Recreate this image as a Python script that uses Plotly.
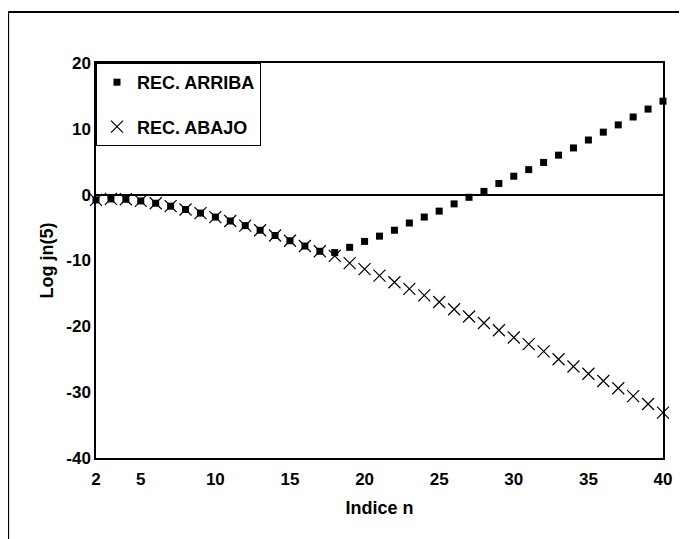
import plotly.graph_objects as go

n_values = list(range(2, 41))

rec_arriba = [-0.8, -0.65, -0.7, -0.95, -1.3, -1.75, -2.25, -2.8, -3.4, -4.0,
              -4.7, -5.4, -6.2, -7.0, -7.8, -8.6, -8.8, -8.0, -7.1, -6.3,
              -5.4, -4.3, -3.4, -2.5, -1.4, -0.4, 0.5, 1.7, 2.8, 3.8,
              4.9, 6.0, 7.1, 8.3, 9.5, 10.6, 11.8, 13.0, 14.2]

rec_abajo = [-0.8, -0.65, -0.7, -0.95, -1.3, -1.75, -2.25, -2.8, -3.4, -4.0,
             -4.7, -5.4, -6.2, -7.0, -7.8, -8.6, -9.3, -10.4, -11.3, -12.3,
             -13.3, -14.3, -15.3, -16.3, -17.4, -18.5, -19.5, -20.6, -21.7, -22.7,
             -23.8, -25.0, -26.1, -27.2, -28.3, -29.4, -30.6, -31.8, -33.1]

x_ticks = [2, 5, 10, 15, 20, 25, 30, 35, 40]
y_ticks = [-40, -30, -20, -10, 0, 10, 20]

FONT = "Arial, 'Liberation Sans', sans-serif"

fig = go.Figure()
fig.add_trace(go.Scatter(
    x=n_values, y=rec_arriba, mode="markers", name="REC. ARRIBA",
    legendgroup="a",
    marker=dict(symbol="square", size=7, color="black"),
    cliponaxis=False,
))
fig.add_trace(go.Scatter(
    x=n_values, y=rec_abajo, mode="markers", name="REC. ABAJO",
    legendgroup="b",
    marker=dict(symbol="x-thin", size=12, color="black",
                line=dict(color="black", width=1.2)),
    cliponaxis=False,
))

fig.update_layout(
    width=687, height=539,
    margin=dict(l=88, r=32, t=55, b=89),
    paper_bgcolor="white", plot_bgcolor="white",
    font=dict(family=FONT, size=17, color="black", weight="bold"),
    showlegend=True,
    legend=dict(x=0, y=1, xanchor="left", yanchor="top",
                bgcolor="white", bordercolor="black", borderwidth=1,
                tracegroupgap=18, traceorder="grouped",
                font=dict(family=FONT, size=18, color="black", weight="bold")),
    xaxis=dict(range=[2, 40], tickvals=x_ticks, ticktext=[str(v) for v in x_ticks],
               showgrid=False, zeroline=False, showline=True, linecolor="black",
               linewidth=1.5, mirror=True, ticks="", ticklabelstandoff=5,
               tickfont=dict(family=FONT, size=17, weight="bold"),
               title=dict(text="Indice n", standoff=13,
                          font=dict(family=FONT, size=18, weight="bold"))),
    yaxis=dict(range=[-40, 20], tickvals=y_ticks, ticktext=[str(v) for v in y_ticks],
               showgrid=False, zeroline=True, zerolinecolor="black", zerolinewidth=1.5,
               showline=True, linecolor="black", linewidth=1.5, mirror=True, ticks="",
               tickfont=dict(family=FONT, size=17, weight="bold"),
               title=dict(text="Log jn(5)", standoff=8,
                          font=dict(family=FONT, size=18, weight="bold"))),
    shapes=[dict(type="rect", xref="paper", yref="paper",
                 x0=-0.155, x1=1.3, y0=-0.4, y1=1.129,
                 line=dict(color="black", width=2), fillcolor="rgba(0,0,0,0)",
                 layer="below")],
)

fig.write_html("out.html")
